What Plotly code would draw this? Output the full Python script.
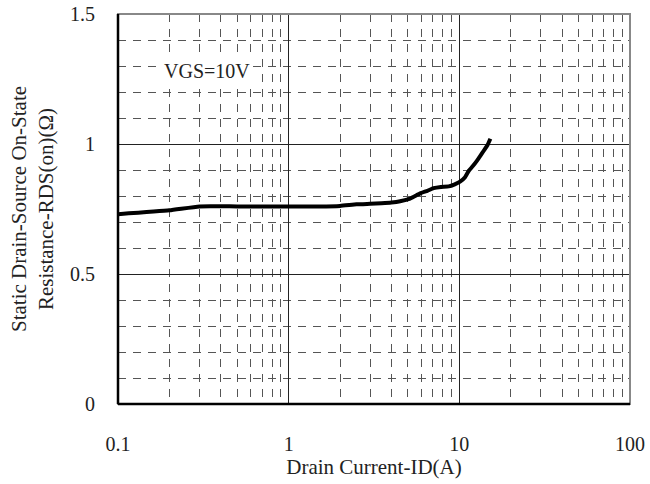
import plotly.graph_objects as go

# Data
drain_current = [0.1, 0.2, 0.3, 0.5, 1.0, 1.5, 2.0, 2.5, 3.0, 3.5, 4.0, 4.5, 5.15, 5.9, 6.5, 7.06, 7.8, 8.66, 9.4, 10.1, 10.8, 11.36, 12.0, 12.7, 13.3, 13.9, 14.6, 15.2]
rds_on = [0.73, 0.745, 0.76, 0.76, 0.76, 0.76, 0.762, 0.768, 0.77, 0.772, 0.775, 0.78, 0.79, 0.81, 0.82, 0.83, 0.835, 0.837, 0.845, 0.855, 0.872, 0.897, 0.915, 0.936, 0.955, 0.974, 0.995, 1.02]
x_ticks = [0.1, 1, 10, 100]
x_tick_labels = ["0.1", "1", "10", "100"]
x_minor_ticks = [m * d for d in [0.1, 1, 10] for m in range(2, 10)]
y_ticks = [0, 0.5, 1, 1.5]
y_tick_labels = ["0", "0.5", "1", "1.5"]
annotation_text = "VGS=10V"

FONT = "Liberation Serif, Times New Roman, serif"
TXT = "#222"

fig = go.Figure()
fig.add_trace(go.Scatter(x=drain_current, y=rds_on, mode="lines",
                         line=dict(color="black", width=4, shape="spline", smoothing=0.4),
                         showlegend=False, hoverinfo="skip"))

fig.add_annotation(x=-0.476, y=1.28, xref="x", yref="y", text=annotation_text,
                   showarrow=False, font=dict(family=FONT, size=20, color=TXT),
                   bgcolor="white")

fig.update_layout(
    width=650, height=484,
    margin=dict(l=118, r=20, t=14, b=80),
    paper_bgcolor="white", plot_bgcolor="white",
    font=dict(family=FONT, color=TXT),
    xaxis=dict(
        type="log", range=[-1, 2], automargin=False,
        tickvals=x_ticks, ticktext=x_tick_labels,
        tickfont=dict(size=20, family=FONT, color=TXT),
        ticks="", ticklabelstandoff=26,
        showgrid=True, gridcolor="#222", gridwidth=1,
        minor=dict(tickvals=x_minor_ticks,
                   showgrid=True, gridcolor="#555", gridwidth=1, griddash="8px,7px", ticks=""),
        showline=False, zeroline=False,
        title=dict(text="Drain Current-ID(A)", font=dict(size=21, family=FONT, color=TXT), standoff=4),
    ),
    yaxis=dict(
        range=[0, 1.5], automargin=False,
        tickvals=y_ticks, ticktext=y_tick_labels,
        tickfont=dict(size=20, family=FONT, color=TXT),
        ticks="", ticklabelstandoff=22,
        showgrid=True, gridcolor="#222", gridwidth=1,
        minor=dict(dtick=0.1, showgrid=True, gridcolor="#555", gridwidth=1, griddash="8px,7px", ticks=""),
        showline=False, zeroline=False,
        title=dict(text="Static Drain-Source On-State<br>Resistance-RDS(on)(Ω)", font=dict(size=21, family=FONT, color=TXT), standoff=10),
    ),
)

# plot border: gray top/right, thick black left/bottom
fig.add_shape(type="rect", xref="paper", yref="paper", x0=0, y0=0, x1=1, y1=1,
              line=dict(color="#888", width=2), layer="above")
fig.add_shape(type="line", xref="paper", yref="paper", x0=0, y0=0, x1=0, y1=1,
              line=dict(color="black", width=2.5), layer="above")
fig.add_shape(type="line", xref="paper", yref="paper", x0=0, y0=0, x1=1, y1=0,
              line=dict(color="black", width=2.5), layer="above")

fig.write_html("out.html")
